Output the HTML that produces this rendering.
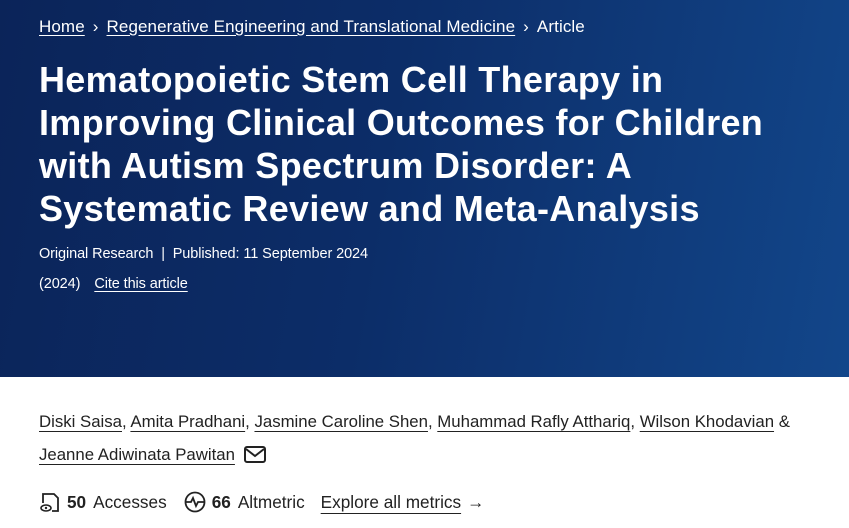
<!DOCTYPE html>
<html><head><meta charset="utf-8"><style>
body{margin:0;width:849px;height:528px;overflow:hidden;font-family:"Liberation Sans",sans-serif;background:#fff}
.hero{position:absolute;left:0;top:0;width:849px;height:377px;background:linear-gradient(100deg,#0b2459 0%,#0c2d68 45%,#12468a 100%);color:#fff}
.bc{position:absolute;left:39px;top:17px;font-size:17px;letter-spacing:0.1px;white-space:nowrap}
.bc a{color:#fff;text-decoration:underline;text-underline-offset:3px}
.bc span{margin:0 8px}
h1{position:absolute;left:39px;top:58px;margin:0;font-size:36px;line-height:43px;font-weight:bold;letter-spacing:0.3px;white-space:nowrap}
.meta{position:absolute;left:39px;top:246px;font-size:14.5px;letter-spacing:-0.1px}
.meta2{position:absolute;left:39px;top:276px;font-size:14.5px;letter-spacing:-0.1px}
.meta2 a{color:#fff;margin-left:14px;text-decoration:underline;text-underline-offset:3px}
.auth{position:absolute;left:39px;top:405px;font-size:16.8px;letter-spacing:0px;color:#222;line-height:33px;white-space:nowrap}
.auth u{text-underline-offset:4px}
.met{position:absolute;left:39px;top:491px;font-size:17.2px;color:#222;white-space:nowrap;display:flex;align-items:center}
</style></head><body>
<div class="hero">
<div class="bc"><a>Home</a><span>›</span><a>Regenerative Engineering and Translational Medicine</a><span>›</span>Article</div>
<h1>Hematopoietic Stem Cell Therapy in<br>Improving Clinical Outcomes for Children<br>with Autism Spectrum Disorder: A<br>Systematic Review and Meta-Analysis</h1>
<div class="meta">Original Research &nbsp;|&nbsp; Published: 11 September 2024</div>
<div class="meta2">(2024)<a>Cite this article</a></div>
</div>
<div class="auth"><u>Diski Saisa</u>, <u>Amita Pradhani</u>, <u>Jasmine Caroline Shen</u>, <u>Muhammad Rafly Atthariq</u>, <u>Wilson Khodavian</u> &amp;<br><u>Jeanne Adiwinata Pawitan</u> <svg width="22" height="17" viewBox="0 0 22 17" style="vertical-align:-3px;margin-left:4px"><rect x="1" y="1" width="20" height="15" rx="2" fill="none" stroke="#222" stroke-width="2"/><path d="M2 3l9 7 9-7" fill="none" stroke="#222" stroke-width="2"/></svg></div>
<div class="met">
<svg width="22" height="22" viewBox="0 0 22 22"><path d="M4 12V3h11l4 4v13h-6" fill="none" stroke="#222" stroke-width="1.8"/><ellipse cx="7" cy="17" rx="5" ry="3" fill="none" stroke="#222" stroke-width="1.6"/><circle cx="7" cy="17" r="1.2" fill="#222"/></svg>
<b style="margin-left:6px">50</b><span style="margin-left:7px">Accesses</span>
<svg width="22" height="22" viewBox="0 0 22 22" style="margin-left:17px"><circle cx="11" cy="11" r="9.5" fill="none" stroke="#222" stroke-width="1.8"/><path d="M2 11h5l2-4 3 8 2-4h6" fill="none" stroke="#222" stroke-width="1.8"/></svg>
<b style="margin-left:6px">66</b><span style="margin-left:7px">Altmetric</span>
<span style="margin-left:16px;text-decoration:underline;text-underline-offset:5px">Explore all metrics</span><span style="margin-left:6px">→</span>
</div>
</body></html>
